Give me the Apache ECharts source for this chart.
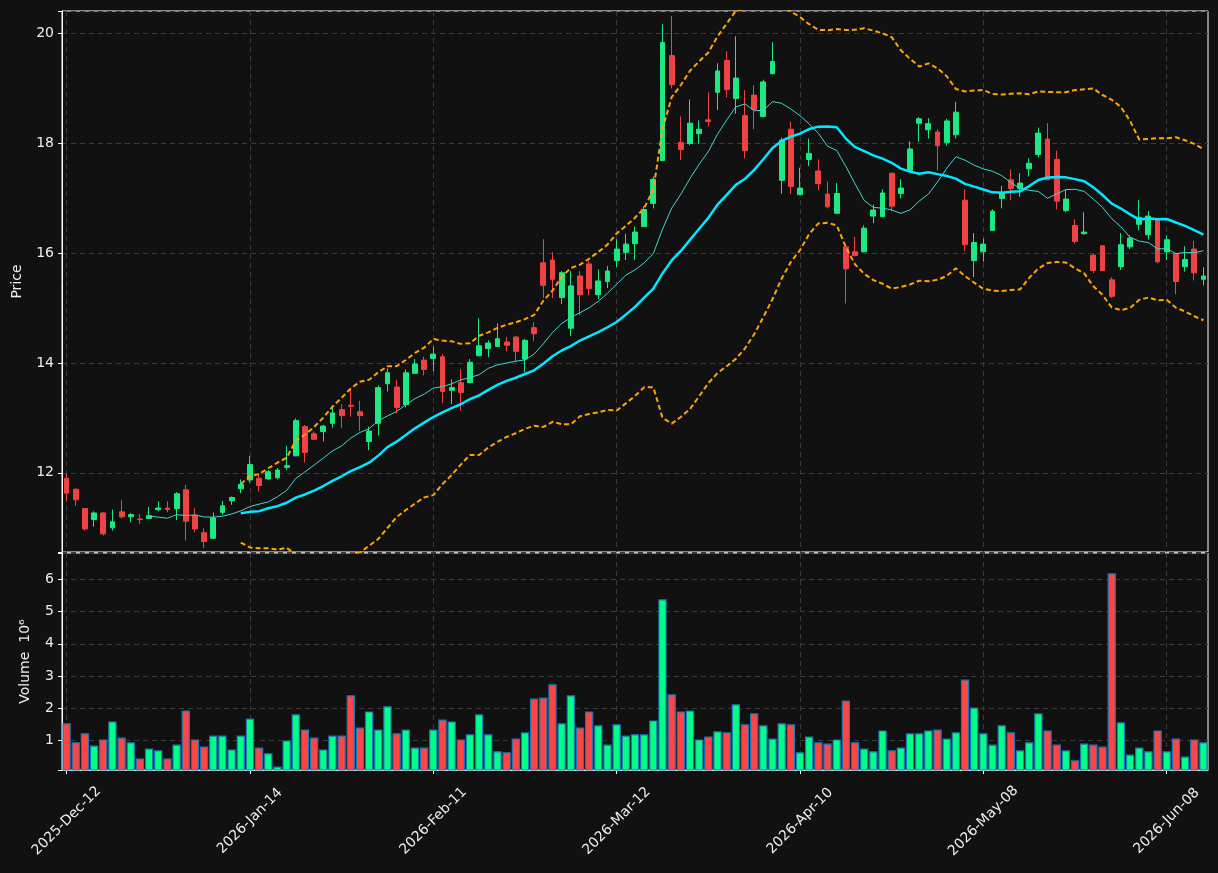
<!DOCTYPE html>
<html>
<head>
<meta charset="utf-8">
<script src="https://cdn.jsdelivr.net/npm/echarts@6/dist/echarts.min.js"></script>
<style>
    html, body { margin: 0; padding: 0; background: #111111; }
    #chart { width: 1218px; height: 873px; }
</style>
</head>
<body>
<div id="chart"></div>
<script>
// daily OHLC (125 trading days)
var opens = [11.90, 11.70, 11.35, 11.15, 11.27, 11.00, 11.29, 11.20, 11.16, 11.17,
    11.33, 11.36, 11.35, 11.69, 11.23, 10.91, 10.81, 11.28, 11.49, 11.71,
    11.87, 11.90, 11.89, 11.91, 12.10, 12.31, 12.84, 12.71, 12.75, 12.90,
    13.15, 13.23, 13.11, 12.57, 12.90, 13.62, 13.56, 13.24, 13.81, 14.05,
    14.08, 14.11, 13.50, 13.64, 13.64, 14.13, 14.26, 14.30, 14.38, 14.47,
    14.07, 14.64, 15.82, 15.87, 15.19, 14.63, 15.58, 15.80, 15.24, 15.48,
    15.86, 16.01, 16.17, 16.48, 16.90, 17.68, 19.59, 18.01, 17.99, 18.17,
    18.42, 18.92, 19.50, 18.81, 18.50, 18.87, 18.48, 19.26, 17.32, 18.25,
    17.06, 17.70, 17.49, 17.07, 16.72, 16.11, 16.02, 16.02, 16.67, 16.66,
    17.45, 17.08, 17.50, 18.36, 18.24, 18.20, 18.01, 18.15, 16.96, 15.86,
    16.02, 16.41, 16.99, 17.33, 17.17, 17.53, 17.79, 18.07, 17.70, 16.77,
    16.50, 16.35, 15.96, 16.13, 15.51, 15.75, 16.11, 16.52, 16.33, 16.59,
    16.02, 15.99, 15.75, 16.07, 15.52];
var highs = [11.99, 11.72, 11.36, 11.30, 11.28, 11.33, 11.51, 11.27, 11.25, 11.38,
    11.48, 11.48, 11.65, 11.78, 11.36, 10.99, 11.28, 11.49, 11.57, 11.88,
    12.31, 11.99, 12.05, 12.09, 12.49, 12.99, 12.87, 12.75, 12.87, 13.18,
    13.25, 13.51, 13.31, 12.84, 13.59, 13.90, 13.69, 13.88, 14.07, 14.11,
    14.30, 14.16, 13.70, 13.89, 14.07, 14.81, 14.41, 14.72, 14.47, 14.49,
    14.44, 14.74, 16.25, 16.01, 15.67, 15.67, 15.67, 15.86, 15.70, 15.76,
    16.25, 16.35, 16.48, 16.85, 17.39, 20.16, 20.31, 18.48, 18.79, 18.41,
    18.92, 19.45, 19.67, 19.94, 18.96, 19.05, 19.15, 19.83, 18.10, 18.39,
    17.55, 18.08, 17.70, 17.30, 17.27, 16.12, 16.29, 16.50, 16.88, 17.16,
    17.46, 17.34, 18.03, 18.47, 18.45, 18.25, 18.44, 18.75, 17.16, 16.36,
    16.26, 16.79, 17.22, 17.52, 17.45, 17.72, 18.28, 18.36, 17.86, 17.15,
    16.61, 16.74, 15.99, 16.14, 15.56, 16.36, 16.32, 16.96, 16.76, 16.60,
    16.32, 16.00, 16.12, 16.22, 15.74];
var lows = [11.48, 11.40, 10.95, 11.02, 10.86, 10.95, 11.17, 11.10, 11.07, 11.16,
    11.30, 11.28, 11.14, 10.77, 10.92, 10.63, 10.80, 11.24, 11.42, 11.63,
    11.82, 11.66, 11.87, 11.88, 12.05, 12.30, 12.19, 12.60, 12.57, 12.82,
    12.82, 13.02, 12.76, 12.41, 12.68, 13.48, 13.08, 13.19, 13.80, 13.77,
    13.85, 13.27, 13.25, 13.13, 13.63, 14.12, 14.10, 14.29, 14.21, 14.02,
    13.83, 14.39, 15.18, 15.18, 15.07, 14.49, 14.87, 15.23, 15.16, 15.36,
    15.74, 15.87, 15.87, 16.47, 16.81, 17.67, 18.99, 17.69, 17.96, 17.98,
    18.30, 18.60, 18.83, 18.53, 17.72, 18.25, 18.47, 19.25, 17.08, 17.07,
    17.05, 17.58, 17.14, 16.81, 16.71, 15.08, 15.95, 16.01, 16.54, 16.65,
    16.76, 16.99, 17.49, 18.02, 18.08, 17.50, 17.95, 18.08, 16.03, 15.56,
    15.84, 16.40, 16.81, 16.96, 17.02, 17.39, 17.74, 17.33, 16.79, 16.74,
    16.17, 16.33, 15.63, 15.68, 15.18, 15.69, 16.07, 16.41, 16.24, 15.81,
    15.87, 15.25, 15.66, 15.50, 15.41];
var closes = [11.63, 11.51, 10.98, 11.27, 10.89, 11.11, 11.20, 11.24, 11.15, 11.22,
    11.36, 11.33, 11.62, 11.12, 10.98, 10.75, 11.18, 11.40, 11.55, 11.79,
    12.15, 11.77, 12.02, 12.05, 12.13, 12.95, 12.37, 12.61, 12.85, 13.09,
    13.04, 13.21, 13.04, 12.76, 13.55, 13.82, 13.19, 13.82, 13.98, 13.88,
    14.16, 13.48, 13.55, 13.46, 14.01, 14.31, 14.36, 14.44, 14.32, 14.21,
    14.41, 14.53, 15.41, 15.52, 15.64, 15.40, 15.24, 15.35, 15.49, 15.67,
    16.07, 16.16, 16.38, 16.79, 17.34, 19.83, 19.06, 17.88, 18.36, 18.25,
    18.39, 19.31, 18.97, 19.18, 17.86, 18.61, 19.11, 19.48, 18.05, 17.21,
    17.18, 17.81, 17.26, 16.84, 17.08, 15.71, 15.95, 16.45, 16.78, 17.09,
    16.85, 17.18, 17.89, 18.44, 18.35, 17.95, 18.40, 18.56, 16.15, 16.19,
    16.16, 16.76, 17.10, 17.17, 17.27, 17.63, 18.18, 17.33, 16.94, 16.98,
    16.21, 16.38, 15.68, 15.68, 15.21, 16.15, 16.27, 16.65, 16.67, 15.84,
    16.24, 15.48, 15.88, 15.64, 15.58];
// volume in millions of shares
var volumes = [1.53, 0.94, 1.22, 0.84, 1.03, 1.59, 1.09, 0.94, 0.44, 0.75,
    0.69, 0.44, 0.87, 1.93, 1.03, 0.81, 1.15, 1.15, 0.72, 1.15,
    1.68, 0.78, 0.60, 0.19, 1.00, 1.81, 1.34, 1.09, 0.72, 1.15,
    1.15, 2.40, 1.40, 1.90, 1.34, 2.06, 1.22, 1.34, 0.78, 0.78,
    1.34, 1.65, 1.59, 1.03, 1.19, 1.81, 1.19, 0.66, 0.63, 1.06,
    1.25, 2.30, 2.33, 2.74, 1.53, 2.40, 1.40, 1.90, 1.47, 0.87,
    1.50, 1.15, 1.19, 1.19, 1.62, 5.38, 2.43, 1.90, 1.93, 1.03,
    1.12, 1.28, 1.25, 2.12, 1.50, 1.84, 1.47, 1.06, 1.53, 1.50,
    0.63, 1.12, 0.94, 0.90, 1.03, 2.24, 0.94, 0.75, 0.66, 1.31,
    0.69, 0.78, 1.22, 1.22, 1.31, 1.34, 1.06, 1.25, 2.89, 2.02,
    1.22, 0.87, 1.47, 1.25, 0.69, 0.94, 1.84, 1.31, 0.87, 0.69,
    0.38, 0.90, 0.87, 0.81, 6.19, 1.56, 0.56, 0.78, 0.66, 1.31,
    0.66, 1.06, 0.50, 1.03, 0.94];

// trading calendar
var startDate = '2025-12-12';
var holidays = ['2025-12-25', '2025-12-26', '2026-01-01', '2026-02-16', '2026-04-03', '2026-05-25'];
var monthNames = ['Jan', 'Feb', 'Mar', 'Apr', 'May', 'Jun', 'Jul', 'Aug', 'Sep', 'Oct', 'Nov', 'Dec'];
var tickEvery = 20;

var priceMin = 10.56, priceMax = 20.4;
var volMin = 0.08, volMax = 6.82;

var upColor = '#1de883', downColor = '#ef4242';
var volUp = '#00ff88', volDown = '#ff4444', volEdge = '#1f77b4';
var textColor = '#eeeeee';

function pad(n) { return n < 10 ? '0' + n : '' + n; }

var dates = [];
var d = new Date(startDate + 'T00:00:00Z');
while (dates.length < closes.length) {
    var iso = d.getUTCFullYear() + '-' + pad(d.getUTCMonth() + 1) + '-' + pad(d.getUTCDate());
    var wd = d.getUTCDay();
    if (wd !== 0 && wd !== 6 && holidays.indexOf(iso) === -1) {
        dates.push(d.getUTCFullYear() + '-' + monthNames[d.getUTCMonth()] + '-' + pad(d.getUTCDate()));
    }
    d = new Date(d.getTime() + 86400000);
}

// moving averages / bollinger from closes
function rollMean(arr, n) {
    var out = [];
    for (var i = 0; i < arr.length; i++) {
        if (i < n - 1) { out.push('-'); continue; }
        var s = 0;
        for (var j = i - n + 1; j <= i; j++) s += arr[j];
        out.push(+(s / n).toFixed(4));
    }
    return out;
}
function rollBand(arr, n, k) {
    var up = [], lo = [];
    for (var i = 0; i < arr.length; i++) {
        if (i < n - 1) { up.push('-'); lo.push('-'); continue; }
        var s = 0, ss = 0;
        for (var j = i - n + 1; j <= i; j++) s += arr[j];
        var m = s / n;
        for (var j2 = i - n + 1; j2 <= i; j2++) ss += (arr[j2] - m) * (arr[j2] - m);
        var sd = Math.sqrt(ss / (n - 1));
        up.push(+(m + k * sd).toFixed(4));
        lo.push(+(m - k * sd).toFixed(4));
    }
    return [up, lo];
}

var ma10 = rollMean(closes, 10);
var ma20 = rollMean(closes, 20);
var bands = rollBand(closes, 20, 2);

var candleData = [];
for (var i = 0; i < closes.length; i++) {
    candleData.push([opens[i], closes[i], lows[i], highs[i]]);
}

function showTick(idx) { return idx % tickEvery === 0; }

var gridLine = { show: true, interval: showTick, alignWithLabel: true, lineStyle: { color: '#3a3a3a', width: 1, type: [5, 4] } };
var hGridLine = { show: true, lineStyle: { color: '#3a3a3a', width: 1, type: [5, 4] } };

var chart = echarts.init(document.getElementById('chart'));
var option = {
    backgroundColor: '#111111',
    animation: false,
    textStyle: { fontFamily: 'DejaVu Sans' },
    grid: [
        { left: 62, right: 10, top: 11, height: 541, show: true, borderColor: '#ffffff', borderWidth: 1 },
        { left: 62, right: 10, top: 553, height: 217, show: true, borderColor: '#ffffff', borderWidth: 1 }
    ],
    xAxis: [
        {
            type: 'category', gridIndex: 0, data: dates, boundaryGap: true,
            axisLine: { show: false }, axisTick: { show: false }, axisLabel: { show: false },
            splitLine: gridLine
        },
        {
            type: 'category', gridIndex: 1, data: dates, boundaryGap: true,
            axisLine: { show: true, lineStyle: { color: '#ffffff' } },
            axisTick: { show: true, interval: showTick, alignWithLabel: true, length: 4, lineStyle: { color: '#ffffff' } },
            axisLabel: {
                interval: showTick, rotate: 45, color: textColor, fontSize: 14, margin: 51,
                align: 'center', verticalAlign: 'middle'
            },
            splitLine: gridLine
        }
    ],
    yAxis: [
        {
            type: 'value', gridIndex: 0, min: priceMin, max: priceMax, splitNumber: 5,
            name: 'Price', nameLocation: 'middle', nameGap: 38,
            nameTextStyle: { color: textColor, fontSize: 14 },
            axisLine: { show: true, lineStyle: { color: '#ffffff' } },
            axisTick: { show: true, length: 4, lineStyle: { color: '#ffffff' } },
            axisLabel: {
                color: textColor, fontSize: 14,
                formatter: function (v) { return Math.abs(v % 2) < 1e-6 ? String(v) : ''; }
            },
            splitLine: hGridLine
        },
        {
            type: 'value', gridIndex: 1, min: volMin, max: volMax, splitNumber: 5,
            name: 'Volume  10\u2076', nameLocation: 'middle', nameGap: 30,
            nameTextStyle: { color: textColor, fontSize: 14 },
            axisLine: { show: true, lineStyle: { color: '#ffffff' } },
            axisTick: { show: true, length: 4, lineStyle: { color: '#ffffff' } },
            axisLabel: {
                color: textColor, fontSize: 14,
                formatter: function (v) { return Math.abs(v - Math.round(v)) < 1e-6 ? String(Math.round(v)) : ''; }
            },
            splitLine: hGridLine
        }
    ],
    series: [
        {
            type: 'candlestick', xAxisIndex: 0, yAxisIndex: 0, data: candleData,
            barWidth: '58%',
            itemStyle: { color: upColor, color0: downColor, borderColor: upColor, borderColor0: downColor, borderWidth: 1 }
        },
        {
            type: 'line', xAxisIndex: 0, yAxisIndex: 0, data: ma10, showSymbol: false, z: 3,
            lineStyle: { color: '#40d8cc', width: 1 }
        },
        {
            type: 'line', xAxisIndex: 0, yAxisIndex: 0, data: ma20, showSymbol: false, z: 3,
            lineStyle: { color: '#00e8ff', width: 2.5 }
        },
        {
            type: 'line', xAxisIndex: 0, yAxisIndex: 0, data: bands[0], showSymbol: false, z: 3,
            lineStyle: { color: '#ffa500', width: 2, type: [5, 3] }
        },
        {
            type: 'line', xAxisIndex: 0, yAxisIndex: 0, data: bands[1], showSymbol: false, z: 3,
            lineStyle: { color: '#ffa500', width: 2, type: [5, 3] }
        },
        {
            type: 'bar', xAxisIndex: 1, yAxisIndex: 1, data: volumes,
            barCategoryGap: '9%',
            itemStyle: {
                borderColor: volEdge, borderWidth: 1.2,
                color: function (p) {
                    return closes[p.dataIndex] >= opens[p.dataIndex] ? volUp : volDown;
                }
            }
        }
    ]
};
chart.setOption(option);
</script>
</body>
</html>
